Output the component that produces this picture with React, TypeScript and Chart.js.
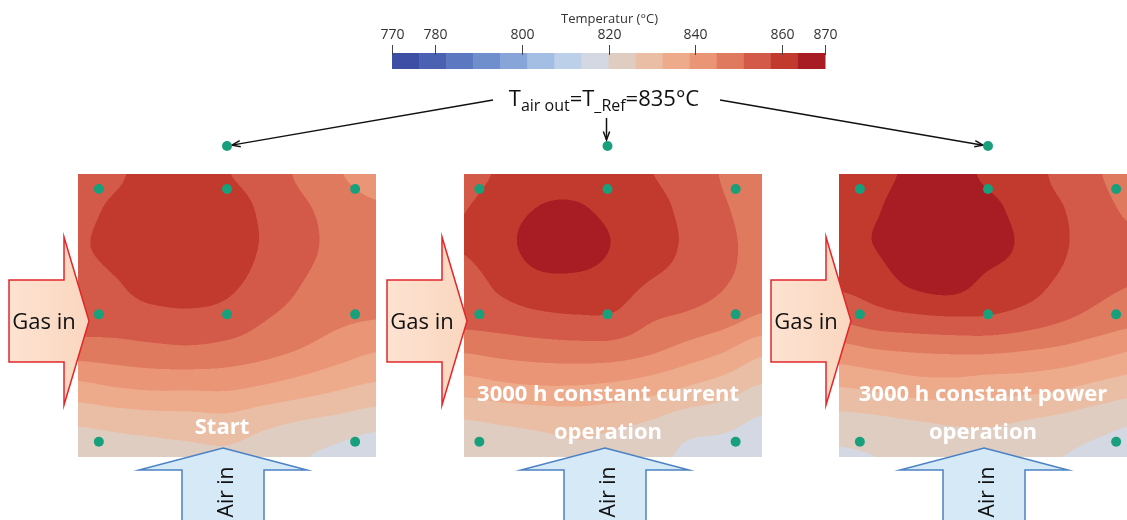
import { useEffect, useRef } from "react";
import { Chart, registerables } from "chart.js";

Chart.register(...registerables);

// Temperature scale: band edges (°C) and the cool-to-warm colour of each band
const BAND_EDGES = [770, 776.25, 782.5, 788.75, 795, 801.25, 807.5, 813.75, 820, 826.25, 832.5, 838.75, 845, 851.25, 857.5, 863.75, 870];
const BAND_COLORS = [
  "#3d4ea5", "#4b62b2", "#5b78c0", "#6f8ecc", "#88a5d9", "#a3bde3", "#bcd0ea", "#d3d8e2",
  "#e0cdc2", "#eabda5", "#eeab8c", "#e99576", "#df7a5f", "#d35a48", "#c13a2d", "#a71d23",
];
const COLORBAR_TICKS = [770, 780, 800, 820, 840, 860, 870];
const COLORBAR_TITLE = "Temperatur (°C)";

// Cell temperatures (°C) on a 9 x 9 grid; rows run top -> bottom (air outlet -> air inlet),
// columns run from the gas inlet side to the opposite side.
const TEMP_START = [
  [854.5, 856.5, 860, 861, 857.8, 855, 850, 845.5, 842],
  [856, 858.5, 861, 862, 860, 856.5, 852.5, 848.5, 846],
  [857, 859, 861.5, 862, 860, 857, 853.5, 849, 847.5],
  [856, 857.3, 860, 860.5, 859, 855.5, 851.5, 848, 847],
  [855, 855, 856, 856.5, 855.5, 852, 849, 846.5, 845.5],
  [847.8, 848.5, 849.5, 850, 849, 847, 844.5, 841.5, 839],
  [837.2, 839, 840, 840, 840, 838.3, 836, 833.5, 831.5],
  [827.4, 828.6, 829.5, 830, 830.5, 828, 826, 824.5, 822.5],
  [821, 822.5, 823.5, 824.5, 825, 823, 820.5, 818, 815],
];
const TEMP_CURRENT = [
  [855, 858.5, 861.5, 861.5, 859.5, 857.7, 855, 850.5, 846],
  [857.3, 861, 864, 864.5, 862, 859.5, 856, 851.8, 848.5],
  [858, 861.5, 866.5, 867.5, 863.5, 860.5, 856.5, 852.5, 849.5],
  [855.5, 859, 862.3, 862.5, 861, 857.5, 855, 851.8, 848.5],
  [854, 855, 856.5, 857.3, 857, 852.5, 850.5, 848, 844.5],
  [845.6, 847, 848, 848.5, 848.3, 846, 842.5, 839, 834],
  [835.7, 837.5, 838.5, 838.5, 837.5, 835.5, 832.5, 829.5, 825.7],
  [825.8, 827, 828, 828.8, 827.7, 826, 823, 822, 819],
  [820.5, 822, 823.5, 825, 824, 822.5, 818.5, 817, 815],
];
const TEMP_POWER = [
  [860, 862, 865, 866.5, 862.5, 860.5, 855.5, 851.5, 848],
  [861.5, 863.3, 867, 868.5, 865.5, 861.5, 857.8, 853, 850],
  [862, 864, 868, 869, 866.5, 862.5, 858.3, 854, 852],
  [859, 861, 865.5, 867, 862.5, 860.5, 856.5, 853, 851.5],
  [853, 855.5, 857, 857.8, 857.5, 855.5, 852.5, 849.5, 847.5],
  [842.5, 844.5, 845.5, 846, 846, 845, 843.5, 841, 838.5],
  [832.7, 834, 836, 836.5, 835.5, 835, 833.5, 831, 829],
  [824, 824.8, 826, 827, 827.3, 826, 824.5, 822.5, 820.5],
  [819, 820, 821.5, 823, 823, 821.5, 820, 818, 816],
];
const PANEL_FIELDS = [TEMP_START, TEMP_CURRENT, TEMP_POWER];
const PANEL_TITLES = [["Start"], ["3000 h constant current", "operation"], ["3000 h constant power", "operation"]];

// Thermocouple positions (fractions of cell width / height): [u, v]
const SENSORS = [
  [0.07, 0.053], [0.5, 0.053], [0.93, 0.053],
  [0.07, 0.496], [0.5, 0.496], [0.93, 0.496],
  [0.07, 0.946], [0.93, 0.946],
];
const OUTLET_SENSOR = [0.5, -0.099];
const T_REF = 835;

// Figure layout (chart units = canvas pixels)
const W = 1127;
const H = 520;
const PANEL_X = [78, 464, 839];
const SENSOR_SHIFT = [0, -5.5, 0];
const PANEL_Y = 174;
const PANEL_W = 298;
const PANEL_H = 283;
const GAS_ARROW_X = [9, 387, 771];
const AIR_ARROW_X = [223, 605, 984];
const CB = { left: 392, right: 825, top: 53, bottom: 69 };
const FONT = '"Open Sans", "DejaVu Sans", sans-serif';

function hexToRgb(h: string) {
  const n = parseInt(h.slice(1), 16);
  return [(n >> 16) & 255, (n >> 8) & 255, n & 255];
}
const BAND_RGB = BAND_COLORS.map(hexToRgb);

function bandIndex(t: number) {
  for (let k = 0; k < BAND_EDGES.length - 1; k++) {
    if (t < BAND_EDGES[k + 1]) return k;
  }
  return BAND_COLORS.length - 1;
}

function cr(p0: number, p1: number, p2: number, p3: number, t: number) {
  return 0.5 * (2 * p1 + (-p0 + p2) * t + (2 * p0 - 5 * p1 + 4 * p2 - p3) * t * t + (-p0 + 3 * p1 - 3 * p2 + p3) * t * t * t);
}

// Catmull-Rom interpolation of the measured grid
function sampleField(g: number[][], u: number, v: number) {
  const rows = g.length - 1;
  const cols = g[0].length - 1;
  const gx = u * cols;
  const gy = v * rows;
  const ix = Math.min(Math.floor(gx), cols - 1);
  const iy = Math.min(Math.floor(gy), rows - 1);
  const tx = gx - ix;
  const ty = gy - iy;
  const c = (i: number) => Math.max(0, Math.min(cols, i));
  const r = (i: number) => Math.max(0, Math.min(rows, i));
  const vals: number[] = [];
  for (let j = -1; j <= 2; j++) {
    const row = g[r(iy + j)];
    vals.push(cr(row[c(ix - 1)], row[c(ix)], row[c(ix + 1)], row[c(ix + 2)], tx));
  }
  return cr(vals[0], vals[1], vals[2], vals[3], ty);
}

function renderField(g: number[][], w: number, h: number, scale: number) {
  const off = document.createElement("canvas");
  off.width = Math.round(w * scale);
  off.height = Math.round(h * scale);
  const octx = off.getContext("2d")!;
  const img = octx.createImageData(off.width, off.height);
  for (let y = 0; y < off.height; y++) {
    const v = (y + 0.5) / off.height;
    for (let x = 0; x < off.width; x++) {
      const u = (x + 0.5) / off.width;
      const rgb = BAND_RGB[bandIndex(sampleField(g, u, v))];
      const i = (y * off.width + x) * 4;
      img.data[i] = rgb[0];
      img.data[i + 1] = rgb[1];
      img.data[i + 2] = rgb[2];
      img.data[i + 3] = 255;
    }
  }
  octx.putImageData(img, 0, 0);
  return off;
}

function sensorPoints() {
  const pts: { x: number; y: number }[] = [];
  PANEL_X.forEach((px, p) => {
    const ox = px + SENSOR_SHIFT[p];
    SENSORS.forEach(([su, sv]) => pts.push({ x: ox + su * PANEL_W, y: PANEL_Y + sv * PANEL_H }));
    pts.push({ x: ox + OUTLET_SENSOR[0] * PANEL_W, y: PANEL_Y + OUTLET_SENSOR[1] * PANEL_H });
  });
  return pts;
}

function arrowLine(ctx: CanvasRenderingContext2D, x1: number, y1: number, x2: number, y2: number) {
  ctx.beginPath();
  ctx.moveTo(x1, y1);
  ctx.lineTo(x2, y2);
  ctx.stroke();
  const a = Math.atan2(y2 - y1, x2 - x1);
  const len = 9;
  const spread = 0.36;
  ctx.beginPath();
  ctx.moveTo(x2 - len * Math.cos(a - spread), y2 - len * Math.sin(a - spread));
  ctx.lineTo(x2, y2);
  ctx.lineTo(x2 - len * Math.cos(a + spread), y2 - len * Math.sin(a + spread));
  ctx.stroke();
}

const figurePlugin = {
  id: "cellFigure",
  beforeDatasetsDraw(chart: any) {
    const ctx: CanvasRenderingContext2D = chart.ctx;
    const sx = chart.scales.x;
    const sy = chart.scales.y;
    const X = (v: number) => sx.getPixelForValue(v);
    const Y = (v: number) => sy.getPixelForValue(v);
    ctx.save();

    // colour bar
    const tMin = BAND_EDGES[0];
    const tMax = BAND_EDGES[BAND_EDGES.length - 1];
    const cbX = (t: number) => X(CB.left + ((t - tMin) / (tMax - tMin)) * (CB.right - CB.left));
    for (let k = 0; k < BAND_COLORS.length; k++) {
      const x0 = cbX(BAND_EDGES[k]);
      const x1 = cbX(BAND_EDGES[k + 1]);
      ctx.fillStyle = BAND_COLORS[k];
      ctx.fillRect(x0, Y(CB.top), x1 - x0 + 0.5, Y(CB.bottom) - Y(CB.top));
    }
    ctx.strokeStyle = "#444";
    ctx.lineWidth = 1;
    ctx.fillStyle = "#333";
    ctx.font = `14px ${FONT}`;
    ctx.textAlign = "center";
    ctx.textBaseline = "middle";
    COLORBAR_TICKS.forEach((t) => {
      const x = Math.round(cbX(t)) + 0.5;
      ctx.beginPath();
      ctx.moveTo(x, Y(45));
      ctx.lineTo(x, Y(55));
      ctx.stroke();
      ctx.fillText(String(t), x, Y(35));
    });
    ctx.font = `13px ${FONT}`;
    ctx.fillText(COLORBAR_TITLE, (cbX(tMin) + cbX(tMax)) / 2 + 1, Y(19));

    // temperature fields
    PANEL_FIELDS.forEach((g, p) => {
      const x0 = X(PANEL_X[p]);
      const y0 = Y(PANEL_Y);
      const w = X(PANEL_X[p] + PANEL_W) - x0;
      const h = Y(PANEL_Y + PANEL_H) - y0;
      const img = renderField(g, w, h, 2);
      ctx.imageSmoothingEnabled = true;
      (ctx as any).imageSmoothingQuality = "high";
      ctx.drawImage(img, x0, y0, w, h);
    });

    // panel captions
    ctx.fillStyle = "#ffffff";
    ctx.font = `bold 22px ${FONT}`;
    ctx.textAlign = "center";
    ctx.textBaseline = "middle";
    PANEL_TITLES.forEach((lines, p) => {
      const cx = X(PANEL_X[p] + 144);
      const ys = lines.length === 1 ? [254] : [221, 259];
      lines.forEach((s, i) => ctx.fillText(s, cx, Y(PANEL_Y + ys[i])));
    });

    // gas inlet arrows
    GAS_ARROW_X.forEach((ax) => {
      const pts = [
        [ax, 280], [ax + 55, 280], [ax + 55, 237], [ax + 80, 321],
        [ax + 55, 405], [ax + 55, 362], [ax, 362],
      ];
      const grad = ctx.createLinearGradient(X(ax), 0, X(ax + 80), 0);
      grad.addColorStop(0, "#fde3d1");
      grad.addColorStop(1, "#fad6bf");
      ctx.beginPath();
      pts.forEach(([x, y], i) => (i ? ctx.lineTo(X(x), Y(y)) : ctx.moveTo(X(x), Y(y))));
      ctx.closePath();
      ctx.fillStyle = grad;
      ctx.fill();
      ctx.strokeStyle = "#e2272c";
      ctx.lineWidth = 1.5;
      ctx.stroke();
      ctx.fillStyle = "#111";
      ctx.font = `22px ${FONT}`;
      ctx.textAlign = "center";
      ctx.textBaseline = "alphabetic";
      ctx.fillText("Gas in", X(ax + 35), Y(329));
    });

    // air inlet arrows
    AIR_ARROW_X.forEach((tx) => {
      const pts = [
        [tx, 448], [tx + 84, 470], [tx + 41, 470], [tx + 41, H + 5],
        [tx - 41, H + 5], [tx - 41, 470], [tx - 84, 470],
      ];
      ctx.beginPath();
      pts.forEach(([x, y], i) => (i ? ctx.lineTo(X(x), Y(y)) : ctx.moveTo(X(x), Y(y))));
      ctx.closePath();
      ctx.fillStyle = "#d5e9f7";
      ctx.fill();
      ctx.strokeStyle = "#4c82c4";
      ctx.lineWidth = 1.5;
      ctx.stroke();
      ctx.save();
      ctx.translate(X(tx + 4), Y(492));
      ctx.rotate(-Math.PI / 2);
      ctx.fillStyle = "#111";
      ctx.font = `21px ${FONT}`;
      ctx.textAlign = "center";
      ctx.textBaseline = "middle";
      ctx.fillText("Air in", 0, 0);
      ctx.restore();
    });

    // outlet reference label with subscripts
    const parts: [string, number, number][] = [
      ["T", 22, 0], ["air out", 16, 5], ["=T", 22, 0], ["_Ref", 16, 5], [`=${T_REF}°C`, 22, 0],
    ];
    let total = 0;
    parts.forEach(([s, fs]) => {
      ctx.font = `${fs}px ${FONT}`;
      total += ctx.measureText(s).width;
    });
    let cx = X(604) - total / 2;
    ctx.fillStyle = "#111";
    ctx.textAlign = "left";
    ctx.textBaseline = "alphabetic";
    parts.forEach(([s, fs, dy]) => {
      ctx.font = `${fs}px ${FONT}`;
      ctx.fillText(s, cx, Y(106 + dy));
      cx += ctx.measureText(s).width;
    });

    // pointers from the label to the outlet thermocouples
    ctx.strokeStyle = "#111";
    ctx.lineWidth = 1.5;
    const ox = PANEL_X.map((px, p) => px + SENSOR_SHIFT[p] + OUTLET_SENSOR[0] * PANEL_W);
    const oy = PANEL_Y + OUTLET_SENSOR[1] * PANEL_H;
    const dot = 5;
    const ang0 = Math.atan2(oy - 100, ox[0] - 493);
    arrowLine(ctx, X(493), Y(100), X(ox[0] - dot * Math.cos(ang0)), Y(oy - dot * Math.sin(ang0)));
    const ang2 = Math.atan2(oy - 100, ox[2] - 720);
    arrowLine(ctx, X(720), Y(100), X(ox[2] - dot * Math.cos(ang2)), Y(oy - dot * Math.sin(ang2)));
    arrowLine(ctx, X(ox[1] - 1), Y(118), X(ox[1] - 1), Y(oy - dot - 1));

    ctx.restore();
  },
};

export default function App() {
  const ref = useRef<HTMLCanvasElement>(null);
  useEffect(() => {
    document.body.style.margin = "0";
    document.body.style.overflow = "hidden";
    const chart = new Chart(ref.current!, {
      type: "scatter",
      data: {
        datasets: [
          {
            data: sensorPoints(),
            pointRadius: 5,
            pointHoverRadius: 5,
            backgroundColor: "#17a07b",
            borderWidth: 0,
          },
        ],
      },
      options: {
        responsive: false,
        animation: false,
        devicePixelRatio: 1,
        events: [],
        layout: { padding: 0, autoPadding: false },
        plugins: { legend: { display: false }, tooltip: { enabled: false } },
        scales: {
          x: { type: "linear", min: 0, max: W, display: false },
          y: { type: "linear", min: 0, max: H, reverse: true, display: false },
        },
      } as any,
      plugins: [figurePlugin],
    });
    return () => chart.destroy();
  }, []);
  return <canvas ref={ref} width={W} height={H} style={{ display: "block" }} />;
}
